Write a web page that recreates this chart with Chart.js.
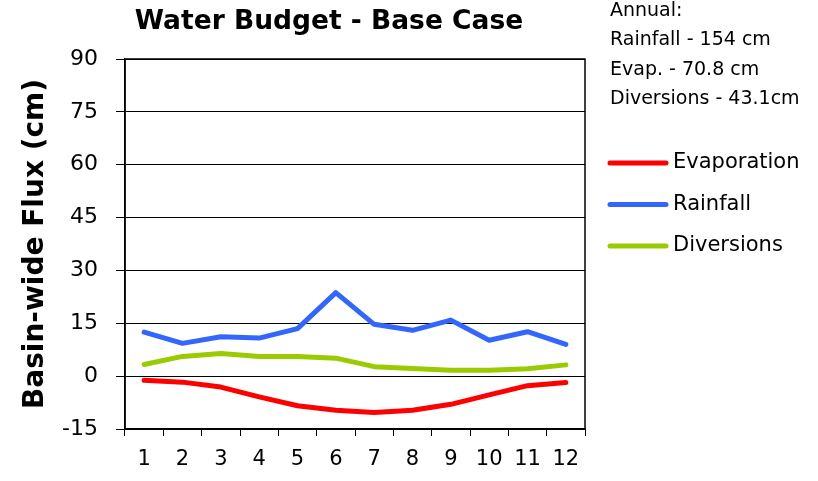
<!DOCTYPE html>
<html>
<head>
<meta charset="utf-8">
<title>Water Budget - Base Case</title>
<script src="https://cdn.jsdelivr.net/npm/chart.js@4"></script>
<style>
    html, body { margin: 0; padding: 0; background: #fff; }
    #wrap { position: relative; width: 818px; height: 481px; }
</style>
</head>
<body>
<div id="wrap"><canvas id="myChart" width="818" height="481"></canvas></div>
<script>
// months on the x axis
const months = ['1', '2', '3', '4', '5', '6', '7', '8', '9', '10', '11', '12'];

// monthly basin-wide flux (cm)
const evaporation = [-1.2, -1.7, -3.1, -5.9, -8.4, -9.7, -10.3, -9.7, -8.0, -5.3, -2.7, -1.8];
const rainfall = [12.5, 9.3, 11.2, 10.8, 13.5, 23.7, 14.7, 13.0, 15.9, 10.2, 12.6, 9.0];
const diversions = [3.3, 5.6, 6.4, 5.6, 5.6, 5.1, 2.7, 2.2, 1.7, 1.7, 2.1, 3.2];

// y axis range
const yMin = -15;
const yMax = 90;
const yStep = 15;

const chartTitle = 'Water Budget - Base Case';
const yTitle = 'Basin-wide Flux (cm)';
const annualNotes = ['Annual:', 'Rainfall - 154 cm', 'Evap. - 70.8 cm', 'Diversions - 43.1cm'];

const FONT = 'DejaVu Sans';

/**
 * 枠線・タイトル・注記・凡例を描画します。
 */
const decorations = {
    id: 'decorations',
    afterDraw: (chart) => {
        const ctx = chart.ctx;
        const area = chart.chartArea;
        ctx.save();

        // plot frame
        ctx.strokeStyle = '#000';
        ctx.lineWidth = 1.5;
        ctx.strokeRect(area.left, area.top, area.right - area.left, area.bottom - area.top);

        ctx.fillStyle = '#000';
        ctx.textBaseline = 'middle';

        // title
        ctx.textAlign = 'center';
        ctx.font = 'bold 26.5px "' + FONT + '"';
        ctx.fillText(chartTitle, 329, 22);

        // annual notes
        ctx.textAlign = 'left';
        ctx.font = '19px "' + FONT + '"';
        annualNotes.forEach((text, i) => {
            ctx.fillText(text, 610, 11 + i * 29.3);
        });

        // legend
        ctx.font = '21px "' + FONT + '"';
        chart.data.datasets.forEach((ds, i) => {
            const y = 163 + i * 41.5;
            ctx.strokeStyle = ds.borderColor;
            ctx.lineWidth = 5;
            ctx.lineCap = 'round';
            ctx.beginPath();
            ctx.moveTo(610, y);
            ctx.lineTo(666, y);
            ctx.stroke();
            ctx.fillText(ds.label, 673, y);
        });

        ctx.restore();
    },
};

const createChart = () => {
    const lineStyle = {
        borderWidth: 5,
        pointRadius: 0,
        tension: 0,
        fill: false,
        borderCapStyle: 'round',
        borderJoinStyle: 'round',
    };

    const chartData = {
        labels: months,
        datasets: [
            { label: 'Evaporation', data: evaporation, borderColor: '#ff0000', backgroundColor: '#ff0000', ...lineStyle },
            { label: 'Rainfall', data: rainfall, borderColor: '#3366ff', backgroundColor: '#3366ff', ...lineStyle },
            { label: 'Diversions', data: diversions, borderColor: '#99cc00', backgroundColor: '#99cc00', ...lineStyle },
        ],
    };

    const config = {
        type: 'line',
        data: chartData,
        options: {
            responsive: false,
            animation: false,
            layout: {
                padding: { top: 59, right: 233, left: 0, bottom: 0 },
            },
            plugins: {
                legend: { display: false },
                tooltip: { enabled: false },
            },
            scales: {
                x: {
                    offset: true,
                    grid: {
                        offset: true,
                        drawOnChartArea: false,
                        drawTicks: true,
                        tickLength: 7,
                        color: '#000',
                    },
                    border: { display: true, color: '#000', width: 1.5 },
                    ticks: {
                        color: '#000',
                        font: { family: FONT, size: 21 },
                        padding: 11,
                        maxRotation: 0,
                        autoSkip: false,
                    },
                    afterFit: (scale) => {
                        scale.height = 52;
                    },
                },
                y: {
                    min: yMin,
                    max: yMax,
                    grid: {
                        color: '#000',
                        lineWidth: 1,
                        tickLength: 9,
                    },
                    border: { display: true, color: '#000', width: 1.5 },
                    ticks: {
                        stepSize: yStep,
                        color: '#000',
                        font: { family: FONT, size: 22 },
                        padding: 18,
                    },
                    title: {
                        display: true,
                        text: yTitle,
                        color: '#000',
                        font: { family: FONT, size: 28, weight: 'bold' },
                        padding: { top: 19, bottom: 0 },
                    },
                    afterFit: (scale) => {
                        scale.width = 125;
                    },
                },
            },
        },
        plugins: [decorations],
    };

    return new Chart(document.getElementById('myChart'), config);
};

createChart();
</script>
</body>
</html>
